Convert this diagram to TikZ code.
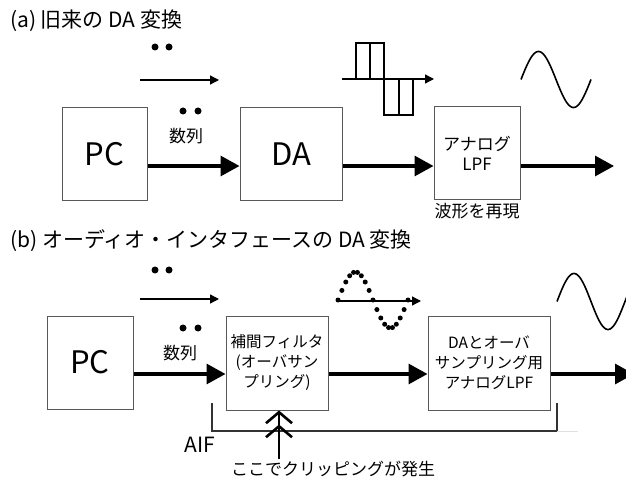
\documentclass[tikz,border=0pt]{standalone}
\usepackage{fontspec}
\setmainfont{Noto Sans CJK JP}
\usetikzlibrary{arrows.meta}
\tikzset{
  box/.style={draw=black!65, line width=1pt, fill=white, inner sep=0pt, align=center},
  bigarrow/.style={line width=3.2pt, -{Triangle[length=19pt,width=20pt]}},
  thinarrow/.style={line width=1.3pt, -{Triangle[length=9pt,width=9pt]}},
  fbig/.style={font=\fontsize{31}{34}\selectfont},
  fmid/.style={font=\fontsize{17}{20}\selectfont},
  fbox/.style={font=\fontsize{15.5}{20}\selectfont},
  ftitle/.style={font=\fontsize{21}{24}\selectfont},
  dot/.style={fill=black}
}
\begin{document}
\begin{tikzpicture}[x=1pt,y=-1pt]
\useasboundingbox[fill=white] (0,0) rectangle (626,478);

% ---------- (a) ----------
\node[ftitle, anchor=west, inner sep=0pt] (titleA) at (10,21) {(a) 旧来の DA 変換};

\fill[dot] (155,47) circle (3.5) (169,47) circle (3.5);
\coordinate (taS) at (140,80);
\coordinate (taE) at (219,80);
\draw[thinarrow] (taS) -- (taE);

\node[box, fbig, minimum width=85pt, minimum height=93pt] (pcA) at (104.5,154.5) {PC};
\node[box, fbig, minimum width=102pt, minimum height=93pt] (daA) at (291,154.5) {DA};
\node[box, fmid, minimum width=86pt, minimum height=93pt] (lpfA) at (477,153.5) {アナログ\\LPF};
\node[fmid] (waveA) at (477,211) {波形を再現};

\fill[dot] (183,111) circle (3.5) (198,111) circle (3.5);
\node[fmid] (seqA) at (186,136) {数列};

\coordinate (endA) at (614,166);
\draw[bigarrow] (pcA.east |- 0,166) -- (daA.west |- 0,166);
\draw[bigarrow] (daA.east |- 0,166) -- (lpfA.west |- 0,166);
\draw[bigarrow] (lpfA.east |- 0,166) -- (endA);

% square wave
\coordinate (sqS) at (342,79);
\coordinate (sqE) at (434,79);
\draw[line width=1.3pt] (356,79) -- (356,43) -- (384,43) -- (384,115) -- (413,115) -- (413,79);
\draw[line width=1.3pt] (370,43) -- (370,79);
\draw[line width=1.3pt] (399,79) -- (399,115);
\draw[thinarrow] (sqS) -- (sqE);

% sine (a)
\draw[line width=1.6pt] plot[domain=0:360, samples=72, smooth] ({521+\x/360*70}, {79.5-28*sin(\x)});

% ---------- (b) ----------
\node[ftitle, anchor=west, inner sep=0pt] (titleB) at (10,241) {(b) オーディオ・インタフェースの DA 変換};

\fill[dot] (155,270) circle (3.5) (169,270) circle (3.5);
\coordinate (tbS) at (140,299);
\coordinate (tbE) at (219,299);
\draw[thinarrow] (tbS) -- (tbE);

\node[box, fbig, minimum width=86pt, minimum height=93pt] (pcB) at (90,362.5) {PC};
\node[box, fbox, minimum width=102pt, minimum height=94pt] (filB) at (277,363) {補間フィルタ\\(オーバサン\\プリング)};
\node[box, fbox, minimum width=122pt, minimum height=94pt] (lpfB) at (489,363) {DAとオーバ\\サンプリング用\\アナログLPF};

\fill[dot] (183,328) circle (3.5) (198,328) circle (3.5);
\node[fmid] (seqB) at (180,353) {数列};

\coordinate (endB) at (634,374);
\draw[bigarrow] (pcB.east |- 0,374) -- (filB.west |- 0,374);
\draw[bigarrow] (filB.east |- 0,374) -- (lpfB.west |- 0,374);
\draw[bigarrow] (lpfB.east |- 0,374) -- (endB);

% dotted sine
\foreach \i in {0,...,18} {
  \fill[dot] ({338+\i*70/18}, {300-28*sin(\i*20)}) circle (2.5);
}
\coordinate (dsS) at (337,301);
\coordinate (dsE) at (421,301);
\draw[thinarrow] (dsS) -- (dsE);

% sine (b)
\draw[line width=1.6pt] plot[domain=0:370, samples=74, smooth] ({557+\x/360*68}, {301.5-28*sin(\x)});

% AIF bracket
\coordinate (brA) at (212,403);
\coordinate (brB) at (212,431);
\coordinate (brC) at (557,431);
\coordinate (brD) at (557,403);
\draw[line width=1.3pt, black!80] (brA) -- (brB) -- (brC) -- (brD);
\draw[line width=1pt, black!12] (brC) -- (578,431);
\node[font=\fontsize{21}{24}\selectfont] (aif) at (200,445) {AIF};

% clipping arrow
\node[fmid] (clip) at (333,469) {ここでクリッピングが発生};
\coordinate (clipS) at (279,459);
\draw[line width=2.6pt, -{Straight Barb[length=11pt,width=26pt]Straight Barb[length=11pt,width=26pt]}] (clipS) -- (filB.south -| clipS);
\end{tikzpicture}
\end{document}
